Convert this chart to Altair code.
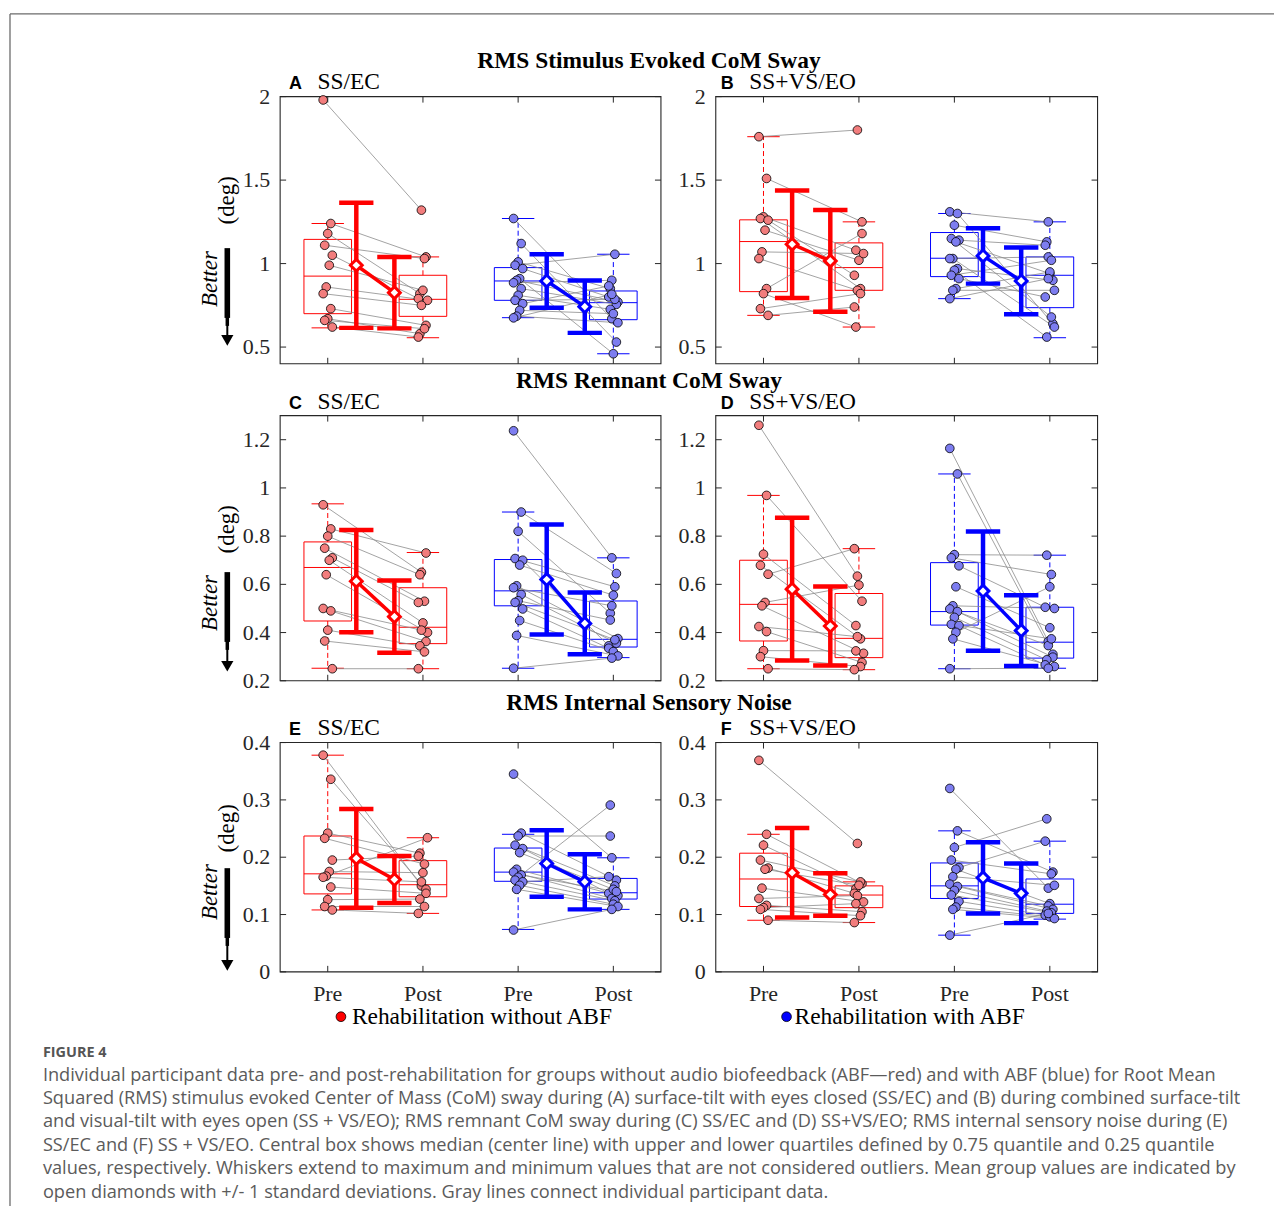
import altair as alt
import pandas as pd

# ----------------------------------------------------------------------
# Values. Group order inside every panel:
# red pre, red post (without ABF), blue pre, blue post (with ABF).
# Participant order is the same in the pre and post lists of a group.
# BOX rows: [lower whisker, Q1, median, Q3, upper whisker]
# ----------------------------------------------------------------------
A_RED_PRE = [1.98, 1.24, 1.18, 1.11, 1.05, 0.99, 0.86, 0.82, 0.73, 0.67, 0.66, 0.62]
A_RED_POST = [1.32, 1.04, 0.82, 1.03, 0.79, 0.84, 0.78, 0.75, 0.63, 0.58, 0.61, 0.56]
A_BLUE_PRE = [1.27, 1.12, 1.01, 0.99, 0.97, 0.91, 0.90, 0.885, 0.85, 0.81, 0.78, 0.76, 0.72, 0.685, 0.675]
A_BLUE_POST = [0.67, 0.53, 0.85, 1.056, 0.80, 0.46, 0.77, 0.90, 0.756, 0.726, 0.786, 0.866, 0.70, 0.646, 0.816]
A_BOX = [[0.615, 0.70, 0.925, 1.145, 1.24], [0.556, 0.684, 0.786, 0.93, 1.04],
         [0.676, 0.78, 0.896, 0.976, 1.27], [0.46, 0.664, 0.766, 0.836, 1.056]]
A_MEAN = [0.99, 0.826, 0.896, 0.742]
A_SD = [0.375, 0.214, 0.16, 0.157]

B_RED_PRE = [1.76, 1.51, 1.28, 1.27, 1.26, 1.20, 1.07, 1.03, 0.85, 0.82, 0.73, 0.69]
B_RED_POST = [1.80, 1.25, 1.08, 0.85, 0.93, 1.02, 1.06, 0.84, 1.18, 0.62, 0.82, 0.74]
B_BLUE_PRE = [1.31, 1.30, 1.23, 1.15, 1.14, 1.13, 1.03, 1.03, 0.97, 0.96, 0.93, 0.91, 0.85, 0.84, 0.79]
B_BLUE_POST = [1.25, 0.64, 1.13, 0.68, 1.11, 0.94, 0.62, 1.04, 0.90, 0.56, 1.02, 0.80, 0.95, 0.84, 0.91]
B_BOX = [[0.69, 0.832, 1.132, 1.262, 1.76], [0.62, 0.84, 0.976, 1.124, 1.25],
         [0.79, 0.922, 1.032, 1.186, 1.30], [0.556, 0.736, 0.93, 1.04, 1.25]]
B_MEAN = [1.116, 1.016, 1.046, 0.896]
B_SD = [0.322, 0.305, 0.166, 0.20]

C_RED_PRE = [0.93, 0.83, 0.80, 0.75, 0.71, 0.70, 0.64, 0.50, 0.49, 0.41, 0.365, 0.25]
C_RED_POST = [0.65, 0.73, 0.64, 0.53, 0.525, 0.44, 0.40, 0.41, 0.363, 0.345, 0.32, 0.25]
C_BLUE_PRE = [1.237, 0.90, 0.82, 0.707, 0.70, 0.68, 0.594, 0.586, 0.558, 0.532, 0.525, 0.498, 0.45, 0.388, 0.252]
C_BLUE_POST = [0.71, 0.645, 0.48, 0.59, 0.345, 0.555, 0.375, 0.511, 0.356, 0.452, 0.37, 0.335, 0.321, 0.303, 0.294]
C_BOX = [[0.252, 0.448, 0.67, 0.776, 0.934], [0.25, 0.354, 0.422, 0.586, 0.732],
         [0.252, 0.511, 0.573, 0.703, 0.90], [0.296, 0.34, 0.372, 0.531, 0.71]]
C_MEAN = [0.613, 0.466, 0.62, 0.438]
C_SD = [0.212, 0.15, 0.228, 0.128]

D_RED_PRE = [1.26, 0.969, 0.725, 0.679, 0.642, 0.525, 0.511, 0.425, 0.404, 0.325, 0.30, 0.25]
D_RED_POST = [0.634, 0.53, 0.429, 0.374, 0.748, 0.597, 0.314, 0.383, 0.276, 0.324, 0.259, 0.246]
D_BLUE_PRE = [1.164, 1.058, 0.723, 0.71, 0.677, 0.59, 0.511, 0.498, 0.487, 0.463, 0.434, 0.429, 0.401, 0.374, 0.25]
D_BLUE_POST = [0.363, 0.31, 0.721, 0.641, 0.505, 0.42, 0.50, 0.346, 0.298, 0.287, 0.374, 0.266, 0.59, 0.259, 0.252]
D_BOX = [[0.25, 0.365, 0.517, 0.70, 0.969], [0.246, 0.296, 0.376, 0.562, 0.748],
         [0.25, 0.431, 0.487, 0.69, 1.058], [0.252, 0.294, 0.36, 0.505, 0.721]]
D_MEAN = [0.58, 0.427, 0.572, 0.408]
D_SD = [0.296, 0.164, 0.247, 0.147]

E_RED_PRE = [0.378, 0.336, 0.242, 0.233, 0.195, 0.175, 0.167, 0.165, 0.148, 0.126, 0.114, 0.108]
E_RED_POST = [0.15, 0.144, 0.207, 0.188, 0.202, 0.173, 0.234, 0.157, 0.137, 0.127, 0.114, 0.102]
E_BLUE_PRE = [0.345, 0.242, 0.237, 0.221, 0.215, 0.208, 0.179, 0.174, 0.169, 0.165, 0.16, 0.157, 0.151, 0.144, 0.073]
E_BLUE_POST = [0.199, 0.16, 0.237, 0.15, 0.137, 0.144, 0.133, 0.128, 0.14, 0.291, 0.124, 0.166, 0.118, 0.114, 0.109]
E_BOX = [[0.108, 0.136, 0.171, 0.237, 0.378], [0.102, 0.131, 0.152, 0.194, 0.234],
         [0.074, 0.158, 0.174, 0.216, 0.24], [0.109, 0.127, 0.138, 0.163, 0.199]]
E_MEAN = [0.198, 0.161, 0.189, 0.157]
E_SD = [0.086, 0.041, 0.058, 0.048]

F_RED_PRE = [0.369, 0.24, 0.221, 0.195, 0.181, 0.179, 0.146, 0.128, 0.116, 0.112, 0.109, 0.09]
F_RED_POST = [0.224, 0.154, 0.145, 0.157, 0.137, 0.151, 0.122, 0.133, 0.105, 0.119, 0.098, 0.086]
F_BLUE_PRE = [0.32, 0.246, 0.217, 0.195, 0.182, 0.179, 0.166, 0.153, 0.149, 0.142, 0.134, 0.123, 0.113, 0.109, 0.064]
F_BLUE_POST = [0.146, 0.174, 0.267, 0.171, 0.228, 0.119, 0.151, 0.115, 0.109, 0.106, 0.103, 0.099, 0.096, 0.093, 0.102]
F_BOX = [[0.09, 0.114, 0.162, 0.207, 0.24], [0.086, 0.112, 0.134, 0.15, 0.157],
         [0.064, 0.128, 0.15, 0.19, 0.246], [0.092, 0.102, 0.118, 0.162, 0.228]]
F_MEAN = [0.173, 0.135, 0.164, 0.137]
F_SD = [0.078, 0.037, 0.062, 0.052]

Y_DOMAINS = [[0.4, 2.0], [0.4, 2.0], [0.2, 1.3], [0.2, 1.3], [0.0, 0.4], [0.0, 0.4]]
Y_TICKS = [[0.5, 1, 1.5, 2], [0.5, 1, 1.5, 2], [0.2, 0.4, 0.6, 0.8, 1, 1.2],
           [0.2, 0.4, 0.6, 0.8, 1, 1.2], [0, 0.1, 0.2, 0.3, 0.4], [0, 0.1, 0.2, 0.3, 0.4]]
X_TICKS = [1, 2, 3, 4]
X_LABELS = ["Pre", "Post", "Pre", "Post"]
PANEL_LETTERS = ["A", "B", "C", "D", "E", "F"]
PANEL_CONDS = ["SS/EC", "SS+VS/EO", "SS/EC", "SS+VS/EO", "SS/EC", "SS+VS/EO"]
ROW_TITLES = ["RMS Stimulus Evoked CoM Sway", "RMS Remnant CoM Sway", "RMS Internal Sensory Noise"]
LEGEND_TEXT = ["Rehabilitation without ABF", "Rehabilitation with ABF"]
CAPTION_HEAD = "FIGURE 4"
CAPTION_LINES = [
    "Individual participant data pre- and post-rehabilitation for groups without audio biofeedback (ABF\u2014red) and with ABF (blue) for Root Mean",
    "Squared (RMS) stimulus evoked Center of Mass (CoM) sway during (A) surface-tilt with eyes closed (SS/EC) and (B) during combined surface-tilt",
    "and visual-tilt with eyes open (SS + VS/EO); RMS remnant CoM sway during (C) SS/EC and (D) SS+VS/EO; RMS internal sensory noise during (E)",
    "SS/EC and (F) SS + VS/EO. Central box shows median (center line) with upper and lower quartiles defined by 0.75 quantile and 0.25 quantile",
    "values, respectively. Whiskers extend to maximum and minimum values that are not considered outliers. Mean group values are indicated by",
    "open diamonds with +/- 1 standard deviations. Gray lines connect individual participant data.",
]

PANEL_DATA = [
    (A_RED_PRE, A_RED_POST, A_BLUE_PRE, A_BLUE_POST, A_BOX, A_MEAN, A_SD),
    (B_RED_PRE, B_RED_POST, B_BLUE_PRE, B_BLUE_POST, B_BOX, B_MEAN, B_SD),
    (C_RED_PRE, C_RED_POST, C_BLUE_PRE, C_BLUE_POST, C_BOX, C_MEAN, C_SD),
    (D_RED_PRE, D_RED_POST, D_BLUE_PRE, D_BLUE_POST, D_BOX, D_MEAN, D_SD),
    (E_RED_PRE, E_RED_POST, E_BLUE_PRE, E_BLUE_POST, E_BOX, E_MEAN, E_SD),
    (F_RED_PRE, F_RED_POST, F_BLUE_PRE, F_BLUE_POST, F_BOX, F_MEAN, F_SD),
]

# ---------------------------- layout / styling -------------------------
SERIF = "Liberation Serif"
SANS = "Liberation Sans"
CAPF = "Open Sans"
RED, BLUE = "#FF0000", "#0000FF"
RED_FILL, BLUE_FILL = "#F27D7D", "#7D7DF0"
AX = "#262626"
OFF = 8  # page margin: page coordinate -> chart coordinate
# plot rectangles in page pixels: left, right, top, bottom
PANEL_RECT = [(281, 663, 95, 363), (718, 1101, 95, 363),
              (281, 663, 415, 681), (718, 1101, 415, 681),
              (281, 663, 743, 973), (718, 1101, 743, 973)]
MEAN_SHIFT = [0.3, -0.3, 0.3, -0.3]
BOX_HALF, WCAP_HALF, ECAP_HALF = 0.25, 0.17, 0.18

ONE = pd.DataFrame({"k": [0]})


def P(v):
    return v - OFF


def txt(s, x, y, size, font=SERIF, weight="normal", style="normal", align="left",
        baseline="alphabetic", angle=0, color="#000000"):
    mk = dict(text=s, font=font, fontSize=size, fontWeight=weight, fontStyle=style,
              align=align, baseline=baseline, color=color)
    if angle:
        mk["angle"] = angle
    return alt.Chart(ONE).mark_text(**mk).encode(x=alt.value(P(x)), y=alt.value(P(y)))


def drule(x, x2, y, y2, color="#000000", sw=1.0):
    return alt.Chart(ONE).mark_rule(color=color, strokeWidth=sw).encode(
        x=alt.value(P(x)), x2=alt.value(P(x2)), y=alt.value(P(y)), y2=alt.value(P(y2)))


def arrow(x, top, tip):
    return [
        drule(x, x, top, top + 70, sw=5.6),
        drule(x, x, top + 68, top + 78, sw=3.5),
        drule(x, x, top + 76, tip - 9, sw=2),
        alt.Chart(ONE).mark_point(shape="triangle-down", filled=True, size=150,
                                  color="#000000", opacity=1).encode(
            x=alt.value(P(x)), y=alt.value(P(tip - 5.5))),
    ]


def fmt(v):
    return "%g" % v


def panel(i):
    row, col = divmod(i, 2)
    L, R, T, B = [P(v) for v in PANEL_RECT[i]]
    rp, rpo, bp, bpo, box, mean, sd = PANEL_DATA[i]
    xs = alt.Scale(domain=[0.5, 4.5], range=[L, R], nice=False, zero=False)
    ys = alt.Scale(domain=Y_DOMAINS[i], range=[B, T], nice=False, zero=False)

    def X(f):
        return alt.X(f, scale=xs, axis=None)

    def Y(f):
        return alt.Y(f, scale=ys, axis=None)

    cols = [RED, RED, BLUE, BLUE]
    brows, wrows, crows = [], [], []
    for k in range(4):
        c = X_TICKS[k]
        wlo, q1, med, q3, whi = box[k]
        brows.append(dict(x0=c - BOX_HALF, x1=c + BOX_HALF, q1=q1, q3=q3, med=med, col=cols[k]))
        wrows.append(dict(x=c, y=q3, y2=whi, col=cols[k]))
        wrows.append(dict(x=c, y=q1, y2=wlo, col=cols[k]))
        crows.append(dict(x0=c - WCAP_HALF, x1=c + WCAP_HALF, y=whi, col=cols[k]))
        crows.append(dict(x0=c - WCAP_HALF, x1=c + WCAP_HALF, y=wlo, col=cols[k]))
    bdf, wdf, cdf = pd.DataFrame(brows), pd.DataFrame(wrows), pd.DataFrame(crows)

    prow, lrow = [], []
    for g, (pre, post, fc) in enumerate([(rp, rpo, RED_FILL), (bp, bpo, BLUE_FILL)]):
        xa, xb = X_TICKS[2 * g], X_TICKS[2 * g + 1]
        for j, (a, b) in enumerate(zip(pre, post)):
            ja = (((j * 5) % 7) - 3) * 0.016
            jb = (((j * 3 + 2) % 7) - 3) * 0.016
            prow.append(dict(x=xa + ja, v=a, fc=fc))
            prow.append(dict(x=xb + jb, v=b, fc=fc))
            lrow.append(dict(x=xa + ja, x2=xb + jb, y=a, y2=b))
    pdf, ldf = pd.DataFrame(prow), pd.DataFrame(lrow)

    mx = [X_TICKS[k] + MEAN_SHIFT[k] for k in range(4)]
    mdf = pd.DataFrame(dict(x=mx, m=mean, lo=[m - s for m, s in zip(mean, sd)],
                            hi=[m + s for m, s in zip(mean, sd)], col=cols))
    ecrows = []
    for k in range(4):
        for yv in (mean[k] - sd[k], mean[k] + sd[k]):
            ecrows.append(dict(x0=mx[k] - ECAP_HALF, x1=mx[k] + ECAP_HALF, y=yv, col=cols[k]))
    ecdf = pd.DataFrame(ecrows)
    mldf = pd.DataFrame(dict(x=[mx[0], mx[2]], x2=[mx[1], mx[3]], y=[mean[0], mean[2]],
                             y2=[mean[1], mean[3]], col=[RED, BLUE]))

    C = lambda: alt.Color("col:N", scale=None)
    ytk = pd.DataFrame({"t": Y_TICKS[i], "lab": [fmt(v) for v in Y_TICKS[i]]})
    xtk = pd.DataFrame({"t": X_TICKS, "lab": X_LABELS})

    layers = [
        # plot frame
        alt.Chart(ONE).mark_rect(fill="transparent", stroke=AX, strokeWidth=1.1).encode(
            x=alt.value(L), x2=alt.value(R), y=alt.value(T), y2=alt.value(B)),
        # boxes
        alt.Chart(bdf).mark_rect(fill="transparent", strokeWidth=1).encode(
            x=X("x0:Q"), x2=alt.X2("x1"), y=Y("q1:Q"), y2=alt.Y2("q3"),
            stroke=alt.Stroke("col:N", scale=None)),
        alt.Chart(bdf).mark_rule(strokeWidth=1).encode(
            x=X("x0:Q"), x2=alt.X2("x1"), y=Y("med:Q"), color=C()),
        alt.Chart(wdf).mark_rule(strokeWidth=1, strokeDash=[5, 3]).encode(
            x=X("x:Q"), y=Y("y:Q"), y2=alt.Y2("y2"), color=C()),
        alt.Chart(cdf).mark_rule(strokeWidth=1).encode(
            x=X("x0:Q"), x2=alt.X2("x1"), y=Y("y:Q"), color=C()),
        # participant lines and points
        alt.Chart(ldf).mark_rule(color="#8c8c8c", strokeWidth=0.8).encode(
            x=X("x:Q"), x2=alt.X2("x2"), y=Y("y:Q"), y2=alt.Y2("y2")),
        alt.Chart(pdf).mark_circle(size=76, stroke="#000000", strokeWidth=0.8, opacity=1).encode(
            x=X("x:Q"), y=Y("v:Q"), fill=alt.Fill("fc:N", scale=None)),
        # means +/- SD
        alt.Chart(mldf).mark_rule(strokeWidth=3.5).encode(
            x=X("x:Q"), x2=alt.X2("x2"), y=Y("y:Q"), y2=alt.Y2("y2"), color=C()),
        alt.Chart(mdf).mark_rule(strokeWidth=4.5).encode(
            x=X("x:Q"), y=Y("lo:Q"), y2=alt.Y2("hi"), color=C()),
        alt.Chart(ecdf).mark_rule(strokeWidth=4.5).encode(
            x=X("x0:Q"), x2=alt.X2("x1"), y=Y("y:Q"), color=C()),
        alt.Chart(mdf).mark_point(shape="diamond", filled=True, fill="white", size=140,
                                  strokeWidth=3, opacity=1).encode(
            x=X("x:Q"), y=Y("m:Q"), stroke=alt.Stroke("col:N", scale=None)),
        # inward ticks
        alt.Chart(ytk).mark_rule(color=AX, strokeWidth=1).encode(
            x=alt.value(L), x2=alt.value(L + 6), y=Y("t:Q")),
        alt.Chart(ytk).mark_rule(color=AX, strokeWidth=1).encode(
            x=alt.value(R - 6), x2=alt.value(R), y=Y("t:Q")),
        alt.Chart(xtk).mark_rule(color=AX, strokeWidth=1).encode(
            x=X("t:Q"), y=alt.value(B), y2=alt.value(B - 6)),
        alt.Chart(xtk).mark_rule(color=AX, strokeWidth=1).encode(
            x=X("t:Q"), y=alt.value(T), y2=alt.value(T + 6)),
        # y tick labels
        alt.Chart(ytk).mark_text(align="right", baseline="middle", font=SERIF, fontSize=22,
                                 color=AX).encode(
            x=alt.value(L - 10), y=Y("t:Q"), text="lab:N"),
    ]
    if row == 2:
        layers.append(alt.Chart(xtk).mark_text(align="center", baseline="alphabetic", font=SERIF,
                                               fontSize=22, color=AX).encode(
            x=X("t:Q"), y=alt.value(P(1002)), text="lab:N"))

    # panel label
    lab_y = [87, 408, 735][row]
    lx = 290 if col == 0 else 723
    layers.append(txt(PANEL_LETTERS[i], lx, lab_y, 18, font=SANS, weight="bold"))
    layers.append(txt(PANEL_CONDS[i], lx + 28.5, lab_y, 23.5))

    if col == 0:
        ty = [66, 387, 710][row]
        layers.append(txt(ROW_TITLES[row], 651, ty, 23.5, weight="bold", align="center"))
        deg_y = [199, 529, 829][row]
        bet_y = [278, 603, 893][row]
        top, tip = [(247, 345), (572, 672), (869, 972)][row]
        layers.append(txt("(deg)", 228, deg_y, 23, align="center", baseline="middle", angle=270))
        layers.append(txt("Better", 211, bet_y, 23, style="italic", align="center",
                          baseline="middle", angle=270))
        layers += arrow(228, top, tip)

    if row == 2:
        dot_x, tx = (342, 353) if col == 0 else (789, 797)
        layers.append(alt.Chart(ONE).mark_circle(size=95, color=RED if col == 0 else BLUE,
                                                 stroke="#000000", strokeWidth=0.8, opacity=1)
                      .encode(x=alt.value(P(dot_x)), y=alt.value(P(1018))))
        layers.append(txt(LEGEND_TEXT[col], tx, 1025, 23.5))
    return layers


all_layers = []
for i in range(6):
    all_layers += panel(i)

# outer frame of the figure page
all_layers.append(drule(10, 1278, 12, 12, color="#6b6b6b", sw=1.3))
all_layers.append(drule(10, 10, 12, 1208, color="#6b6b6b", sw=1.3))
# caption
all_layers.append(txt(CAPTION_HEAD, 43, 1058, 14.5, font=CAPF, weight="bold", color="#555555"))
for line, by in zip(CAPTION_LINES, [1082, 1105.5, 1129, 1152.5, 1176, 1199.5]):
    all_layers.append(txt(line, 43, by, 18.25, font=CAPF, color="#5b5b5b"))

chart = alt.layer(*all_layers).resolve_scale(
    x="independent", y="independent"
).properties(
    width=1270, height=1200, padding=0,
    autosize=alt.AutoSizeParams(type="none"),
    background="white",
).configure_view(strokeWidth=0)

chart.save("out.html", embed_options={"renderer": "svg", "actions": False})
